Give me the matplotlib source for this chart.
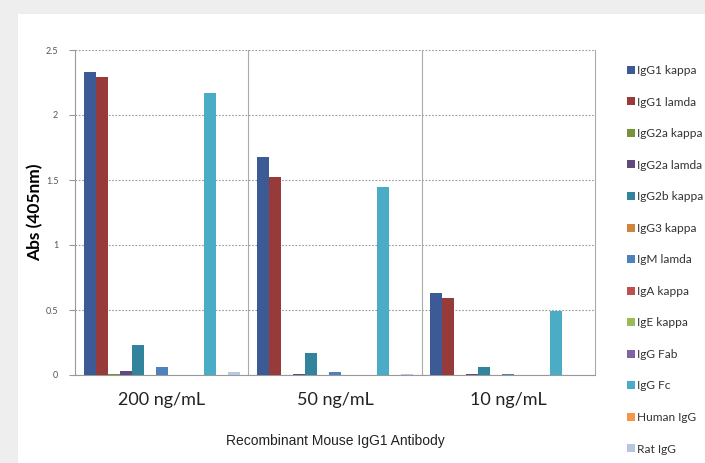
import numpy as np
import matplotlib.pyplot as plt
from matplotlib.patches import Rectangle, Patch

# concentrations on the x axis
groups = ['200 ng/mL', '50 ng/mL', '10 ng/mL']

# antibody isotypes (legend order)
isotypes = ['IgG1 kappa', 'IgG1 lamda', 'IgG2a kappa', 'IgG2a lamda', 'IgG2b kappa',
            'IgG3 kappa', 'IgM lamda', 'IgA kappa', 'IgE kappa', 'IgG Fab',
            'IgG Fc', 'Human IgG', 'Rat IgG']

# absorbance at 405 nm, one list per isotype (200, 50, 10 ng/mL)
igg1_kappa = [2.33, 1.68, 0.63]
igg1_lamda = [2.29, 1.525, 0.59]
igg2a_kappa = [0.005, 0.003, 0.002]
igg2a_lamda = [0.03, 0.01, 0.01]
igg2b_kappa = [0.23, 0.17, 0.065]
igg3_kappa = [0.0, 0.0, 0.0]
igm_lamda = [0.06, 0.025, 0.01]
iga_kappa = [0.0, 0.0, 0.0]
ige_kappa = [0.0, 0.0, 0.0]
igg_fab = [0.0, 0.0, 0.0]
igg_fc = [2.17, 1.45, 0.495]
human_igg = [0.0, 0.0, 0.0]
rat_igg = [0.02, 0.005, 0.003]

values = [igg1_kappa, igg1_lamda, igg2a_kappa, igg2a_lamda, igg2b_kappa, igg3_kappa,
          igm_lamda, iga_kappa, ige_kappa, igg_fab, igg_fc, human_igg, rat_igg]

colors = ['#3B5A96', '#963B39', '#77933C', '#5F4A7B', '#31849B', '#D0843F',
          '#4F81BD', '#C0504D', '#9BBB59', '#8064A2', '#4BACC6', '#F79646', '#B7C6E3']

fig = plt.figure(figsize=(7.05, 4.63), dpi=100)
fig.patch.set_facecolor('#EEEEEE')
fig.add_artist(Rectangle((18 / 705, 0), 1, 1 - 14 / 463, transform=fig.transFigure,
                         facecolor='white', edgecolor='none', zorder=-5))

ax = fig.add_axes([75 / 705, 1 - 375 / 463, 520 / 705, 325 / 463])
ax.set_facecolor('none')

n = len(isotypes)
w = 0.9 / n
x = np.arange(len(groups))
for i in range(n):
    ax.bar(x - 0.45 + w * (i + 0.5), values[i], width=w, color=colors[i], zorder=3)

ax.set_xlim(-0.5, 2.5)
ax.set_ylim(0, 2.5)
ax.set_yticks([0, 0.5, 1, 1.5, 2, 2.5])
ax.set_yticklabels(['0', '0.5', '1', '1.5', '2', '2.5'], fontsize=6.5, color='#555555',
                   family='Lato')
ax.yaxis.grid(True, linestyle=(0, (1.5, 1.5)), color='#999999', linewidth=0.8, zorder=1)
for xv in [0.5, 1.5]:
    ax.axvline(xv, color='#AAAAAA', linewidth=0.8, zorder=1)

ax.set_xticks(x)
ax.set_xticklabels(groups, fontsize=13, family='Lato', color='#222222')
ax.tick_params(axis='x', length=0, pad=12)
ax.tick_params(axis='y', length=4, color='#999999', direction='out', pad=8)

ax.spines['top'].set_visible(False)
ax.spines['right'].set_color('#AAAAAA')
ax.spines['left'].set_color('#999999')
ax.spines['bottom'].set_color('#999999')

ax.set_ylabel('Abs (405nm)', fontsize=12.5, fontweight='bold', family='Lato', labelpad=2)
ax.set_xlabel('Recombinant Mouse IgG1 Antibody', fontsize=10, family='Liberation Sans',
              color='#222222', labelpad=19)

handles = [Patch(facecolor=c) for c in colors]
fig.legend(handles, isotypes, loc='upper left', bbox_to_anchor=(627 / 705, 1 - 65 / 463),
           frameon=False, prop={'family': 'Lato', 'size': 8.6},
           handlelength=0.65, handleheight=0.65, handletextpad=0.2, labelspacing=1.72,
           labelcolor='#333333', borderaxespad=0, borderpad=0)

fig.savefig('out.png', dpi=100)
